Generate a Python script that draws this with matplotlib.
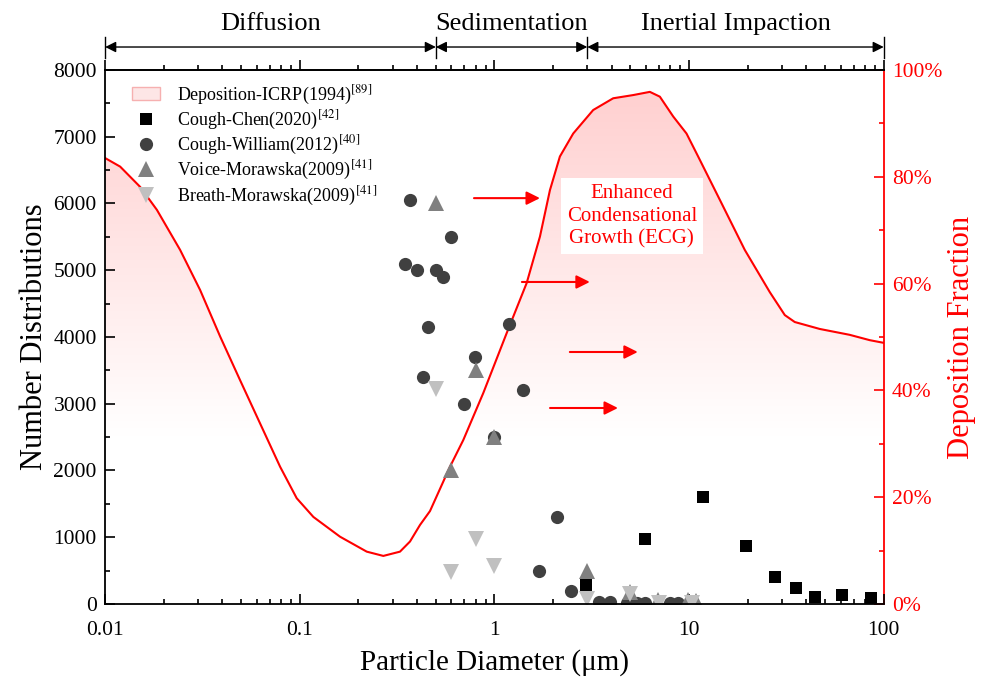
import numpy as np
import matplotlib
matplotlib.use("Agg")
import matplotlib.pyplot as plt
from matplotlib.patches import Patch, PathPatch
from matplotlib.ticker import FuncFormatter, MultipleLocator, LogLocator, NullFormatter

plt.rcParams['font.family'] = ['Liberation Serif', 'DejaVu Serif']
plt.rcParams['mathtext.fontset'] = 'stix'

# ICRP deposition fraction curve (%)
icrp_d = [0.01, 0.01194, 0.01513, 0.01844, 0.02427, 0.03074, 0.03895, 0.04934, 0.06251,
          0.0792, 0.0964, 0.1174, 0.1609, 0.2207, 0.2685, 0.3271, 0.3683, 0.4145, 0.4665,
          0.5909, 0.6917, 0.8762, 1.155, 1.464, 1.713, 1.928, 2.169, 2.539, 3.216, 4.074,
          5.161, 6.288, 7.077, 8.283, 9.70, 11.13, 14.38, 19.33, 25.98, 31.03, 34.91,
          46.93, 66.9, 84.8, 100]
icrp_f = [83.5, 81.9, 78.1, 73.8, 66.3, 58.8, 50.1, 41.9, 33.8,
          25.7, 19.8, 16.3, 12.6, 9.8, 9.0, 9.8, 11.7, 14.8, 17.4,
          25.7, 30.7, 39.5, 50.7, 60.1, 68.8, 77.5, 83.8, 88.1, 92.5, 94.7,
          95.3, 95.9, 95.0, 91.3, 88.1, 83.8, 75.7, 66.3, 58.4, 54.1, 52.8,
          51.5, 50.4, 49.4, 48.9]

chen_d = [2.97, 5.93, 11.8, 19.7, 27.6, 35.3, 44.2, 61.4, 85.7]
chen_n = [290, 970, 1600, 870, 410, 240, 110, 135, 85]

william_d = [0.368, 0.596, 0.347, 0.398, 0.499, 0.546, 0.457, 1.19, 0.797, 0.428, 1.396,
             0.70, 1.0, 2.09, 1.69, 2.47, 3.45, 3.92, 4.8, 5.4, 5.93, 7.97, 8.79]
william_n = [6050, 5500, 5100, 5000, 5000, 4900, 4150, 4200, 3700, 3400, 3200,
             3000, 2500, 1300, 500, 200, 30, 30, 10, 10, 20, 20, 20]

voice_d = [0.5, 0.8, 1.0, 0.6, 3.0, 5.0, 6.94, 9.89, 10.9]
voice_n = [6000, 3500, 2500, 2000, 500, 180, 60, 60, 40]

breath_d = [0.5, 0.8, 0.6, 1.0, 3.0, 5.0, 7.0, 10.3]
breath_n = [3220, 970, 480, 570, 70, 150, 20, 20]

regions = ['Diffusion', 'Sedimentation', 'Inertial Impaction']
region_edges = [0.01, 0.5, 3, 100]

fig = plt.figure(figsize=(9.83, 6.82), dpi=100)
ax = fig.add_axes([0.107, 0.1144, 0.792, 0.783])
ax2 = ax.twinx()
ax.set_zorder(ax2.get_zorder() + 1)
ax.patch.set_visible(False)

# deposition curve with gradient fill
ax2.set_xscale('log')
ax2.plot(icrp_d, icrp_f, color='red', lw=1.5, zorder=3)
poly = ax2.fill_between(icrp_d, icrp_f, 0, color='none')
clip = PathPatch(poly.get_paths()[0], transform=ax2.transData, facecolor='none', edgecolor='none')
ax2.add_patch(clip)
v = np.linspace(0, 100, 256)
grad = np.zeros((256, 1, 4))
grad[:, 0, 0] = 1.0
grad[:, 0, 3] = 0.2 * np.clip((v - 30) / 70, 0, 1)
im = ax2.imshow(grad, extent=[0.01, 100, 0, 100], origin='lower', aspect='auto', zorder=1)
im.set_clip_path(clip)
ax2.set_ylim(0, 100)
ax2.set_xlim(0.01, 100)

# scatter data
ax.plot(chen_d, chen_n, 's', color='black', ms=9, mew=0, label='Cough-Chen(2020)$^{\\mathrm{[42]}}$')
ax.plot(william_d, william_n, 'o', color='#404040', ms=9.5, mew=0, label='Cough-William(2012)$^{\\mathrm{[40]}}$')
ax.plot(voice_d, voice_n, '^', color='#808080', ms=11, mew=0, label='Voice-Morawska(2009)$^{\\mathrm{[41]}}$')
ax.plot(breath_d, breath_n, 'v', color='#c0c0c0', ms=11, mew=0, label='Breath-Morawska(2009)$^{\\mathrm{[41]}}$')

ax.set_xscale('log')
ax.set_xlim(0.01, 100)
ax.set_ylim(0, 8000)

# ECG note and arrows
ax.text(5.08, 5810, 'Enhanced\nCondensational\nGrowth (ECG)', color='red', fontsize=15,
        ha='center', va='center', linespacing=1.25,
        bbox=dict(facecolor='white', edgecolor='none', pad=4))
arrows = [(0.785, 1.713, 6080), (1.384, 3.09, 4824), (2.44, 5.45, 3775), (1.93, 4.31, 2936)]
for x0, x1, yy in arrows:
    ax.annotate('', xy=(x1, yy), xytext=(x0, yy),
                arrowprops=dict(arrowstyle='-|>', color='red', lw=1.5, mutation_scale=20,
                                shrinkA=0, shrinkB=0))

# regime band above the plot
tr = ax.get_xaxis_transform()
for xe in region_edges:
    ax.plot([xe, xe], [1.022, 1.062], transform=tr, color='black', lw=1, clip_on=False)
for i, name in enumerate(regions):
    a, b = region_edges[i], region_edges[i + 1]
    ax.annotate('', xy=(b, 1.043), xytext=(a, 1.043), xycoords=tr, textcoords=tr,
                annotation_clip=False,
                arrowprops=dict(arrowstyle='<|-|>', color='black', lw=1, mutation_scale=16,
                                shrinkA=0, shrinkB=0))
    ax.text(np.sqrt(a * b), 1.066, name, transform=tr, ha='center', va='bottom', fontsize=19)

# axes styling
for s in ['left', 'bottom', 'top']:
    ax.spines[s].set_linewidth(1.3)
ax.spines['right'].set_visible(False)
ax2.spines['right'].set_color('red')
ax2.spines['right'].set_linewidth(1.3)
for s in ['left', 'bottom', 'top']:
    ax2.spines[s].set_visible(False)

ax.xaxis.set_major_locator(LogLocator(base=10, numticks=10))
ax.xaxis.set_minor_locator(LogLocator(base=10, subs=np.arange(2, 10), numticks=10))
ax.xaxis.set_major_formatter(FuncFormatter(lambda x, p: '%g' % x))
ax.xaxis.set_minor_formatter(NullFormatter())
ax.yaxis.set_major_locator(MultipleLocator(1000))
ax.yaxis.set_minor_locator(MultipleLocator(500))
ax.tick_params(which='both', direction='in', labelsize=15.5, width=1.2, pad=6)
ax.tick_params(axis='x', which='both', pad=12)
ax.tick_params(which='major', length=7)
ax.tick_params(which='minor', length=3.6)

top = ax.secondary_xaxis('top')
top.xaxis.set_major_locator(LogLocator(base=10, numticks=10))
top.xaxis.set_minor_locator(LogLocator(base=10, subs=np.arange(2, 10), numticks=10))
top.xaxis.set_major_formatter(NullFormatter())
top.xaxis.set_minor_formatter(NullFormatter())
top.tick_params(which='both', direction='out', width=1.2)
top.tick_params(which='major', length=7)
top.tick_params(which='minor', length=3.6)
top.spines['top'].set_linewidth(1.3)

ax2.yaxis.set_major_locator(MultipleLocator(20))
ax2.yaxis.set_minor_locator(MultipleLocator(10))
ax2.yaxis.set_major_formatter(FuncFormatter(lambda y, p: '%d%%' % y))
ax2.tick_params(axis='y', which='both', direction='in', colors='red', labelsize=15.5, width=1.2, pad=6)
ax2.tick_params(axis='y', which='major', length=7)
ax2.tick_params(axis='y', which='minor', length=3.6)
ax2.tick_params(axis='x', which='both', bottom=False, top=False, labelbottom=False)

ax.set_xlabel('Particle Diameter (\u03bcm)', fontsize=21, labelpad=7)
ax.set_ylabel('Number Distributions', fontsize=22, labelpad=3)
ax2.set_ylabel('Deposition Fraction', fontsize=22, color='red', labelpad=3)

handles = [Patch(facecolor='#fde6e6', edgecolor='#f6b0b0', lw=1)]
labels = ['Deposition-ICRP(1994)$^{\\mathrm{[89]}}$']
h, l = ax.get_legend_handles_labels()
leg = ax.legend(handles + h, labels + l, loc='upper left', bbox_to_anchor=(0.02, 0.995),
                frameon=False, fontsize=13, handlelength=1.6, handletextpad=0.9,
                labelspacing=0.12, borderaxespad=0.2)

fig.savefig('out.png', dpi=100)
